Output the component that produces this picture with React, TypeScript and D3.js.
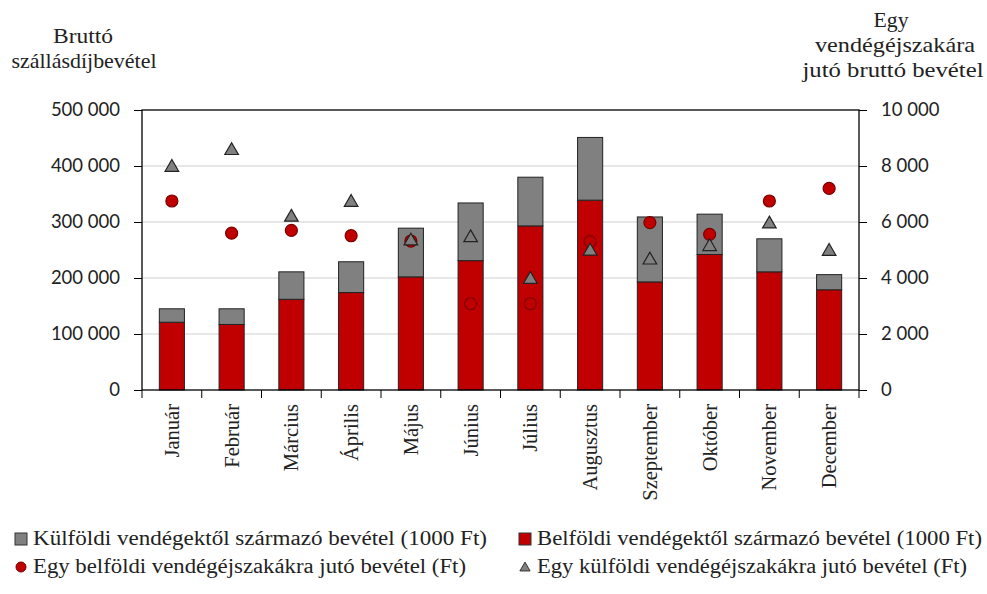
import * as d3 from 'd3';
import { useEffect, useRef } from 'react';

const months = ['Január', 'Február', 'Március', 'Április', 'Május', 'Június', 'Július',
  'Augusztus', 'Szeptember', 'Október', 'November', 'December'];
// 1000 Ft
const domesticRevenue = [121000, 117000, 162000, 174000, 202000, 231000, 293000, 339000, 193000, 242000, 211000, 179000];
const foreignRevenue = [24000, 28000, 49000, 55000, 87000, 103000, 87000, 112000, 116000, 72000, 59000, 27000];
// Ft per night
const domesticPerNight = [6750, 5600, 5700, 5510, 5320, 3080, 3080, 5300, 5980, 5560, 6750, 7200];
const foreignPerNight = [7950, 8550, 6170, 6700, 5320, 5440, 3950, 4960, 4640, 5120, 5930, 4950];

const leftTicks = [0, 100000, 200000, 300000, 400000, 500000];
const rightTicks = [0, 2000, 4000, 6000, 8000, 10000];

const RED = '#c00000';
const GREY = '#808080';
const serif = '"Liberation Serif", serif';
const sans = 'Lato, sans-serif';

const fmt = (v: number) => d3.format(',')(v).replace(/,/g, ' ');

export default function App() {
  const ref = useRef<SVGSVGElement>(null);

  useEffect(() => {
    document.body.style.margin = '0';
    const width = 987, height = 594;
    const margin = { top: 110, right: 128, bottom: 204, left: 142 };
    const w = width - margin.left - margin.right;
    const h = height - margin.top - margin.bottom;

    const svg = d3.select(ref.current);
    svg.selectAll('*').remove();

    const x = d3.scaleBand().domain(months).range([0, w]).paddingInner(0.58).paddingOuter(0.29);
    const xc = d3.scaleBand().domain(months).range([0, w]);
    const yL = d3.scaleLinear().domain([0, 500000]).range([h, 0]);
    const yR = d3.scaleLinear().domain([0, 10000]).range([h, 0]);

    const g = svg.append('g').attr('transform', `translate(${margin.left},${margin.top})`);

    // gridlines
    g.selectAll('.grid').data(leftTicks.slice(1, -1)).enter().append('line')
      .attr('x1', 0).attr('x2', w)
      .attr('y1', (d) => yL(d)).attr('y2', (d) => yL(d))
      .attr('stroke', '#cfcfcf').attr('stroke-width', 1.2);

    // bars
    const bars = g.selectAll('.bar').data(months).enter().append('g');
    bars.append('rect')
      .attr('x', (d) => x(d)!)
      .attr('width', x.bandwidth())
      .attr('y', (d, i) => yL(domesticRevenue[i]))
      .attr('height', (d, i) => h - yL(domesticRevenue[i]))
      .attr('fill', RED).attr('stroke', '#222').attr('stroke-width', 1);
    bars.append('rect')
      .attr('x', (d) => x(d)!)
      .attr('width', x.bandwidth())
      .attr('y', (d, i) => yL(domesticRevenue[i] + foreignRevenue[i]))
      .attr('height', (d, i) => yL(domesticRevenue[i]) - yL(domesticRevenue[i] + foreignRevenue[i]))
      .attr('fill', GREY).attr('stroke', '#222').attr('stroke-width', 1);

    // box
    g.append('rect').attr('width', w).attr('height', h)
      .attr('fill', 'none').attr('stroke', '#000').attr('stroke-width', 1.3);

    // markers
    const cx = (d: string) => xc(d)! + xc.bandwidth() / 2;
    g.selectAll('.dot').data(months).enter().append('circle')
      .attr('cx', cx).attr('cy', (d, i) => yR(domesticPerNight[i]))
      .attr('r', 6).attr('fill', RED).attr('stroke', '#7a0000').attr('stroke-width', 1.2);
    const tri = d3.symbol().type(d3.symbolTriangle).size(80);
    g.selectAll('.tri').data(months).enter().append('path')
      .attr('d', tri)
      .attr('transform', (d, i) => `translate(${cx(d)},${yR(foreignPerNight[i])})`)
      .attr('fill', GREY).attr('stroke', '#222').attr('stroke-width', 1.2);

    // left axis
    const left = g.append('g').call(d3.axisLeft(yL).tickValues(leftTicks).tickFormat((d) => fmt(+d)).tickSize(8).tickPadding(14));
    left.select('.domain').remove();
    left.selectAll('line').attr('stroke', '#000');
    left.selectAll('text').attr('font-family', sans).attr('font-size', 18.5).attr('fill', '#222');

    // right axis
    const right = g.append('g').attr('transform', `translate(${w},0)`)
      .call(d3.axisRight(yR).tickValues(rightTicks).tickFormat((d) => fmt(+d)).tickSize(8).tickPadding(14));
    right.select('.domain').remove();
    right.selectAll('line').attr('stroke', '#000');
    right.selectAll('text').attr('font-family', sans).attr('font-size', 18.5).attr('fill', '#222');

    // category ticks
    g.selectAll('.ctick').data(d3.range(13)).enter().append('line')
      .attr('x1', (d) => d * xc.step()).attr('x2', (d) => d * xc.step())
      .attr('y1', h).attr('y2', h + 8).attr('stroke', '#000');

    g.selectAll('.mlabel').data(months).enter().append('text')
      .attr('transform', (d) => `translate(${cx(d) + 7},${h + 14}) rotate(-90)`)
      .attr('text-anchor', 'end')
      .attr('font-family', serif).attr('font-size', 20.5).attr('fill', '#222')
      .text((d) => d);

    // axis titles
    const titleLine = (tx: number, ty: number, s: string, len: number) =>
      svg.append('text').attr('x', tx).attr('y', ty)
        .attr('font-family', serif).attr('font-size', 21).attr('fill', '#222')
        .attr('text-anchor', 'middle')
        .attr('textLength', len).attr('lengthAdjust', 'spacingAndGlyphs')
        .text(s);
    titleLine(83, 43, 'Bruttó', 60);
    titleLine(84, 68, 'szállásdíjbevétel', 145);
    titleLine(891, 27, 'Egy', 35);
    titleLine(895, 52, 'vendégéjszakára', 160);
    titleLine(893, 77, 'jutó bruttó bevétel', 181);

    // legend
    const legend = [
      { label: 'Külföldi vendégektől származó bevétel (1000 Ft)', shape: 'square', color: GREY, x: 15, y: 545, len: 454 },
      { label: 'Belföldi vendégektől származó bevétel (1000 Ft)', shape: 'square', color: RED, x: 519, y: 545, len: 445 },
      { label: 'Egy belföldi vendégéjszakákra jutó bevétel (Ft)', shape: 'circle', color: RED, x: 15, y: 573, len: 433 },
      { label: 'Egy külföldi vendégéjszakákra jutó bevétel (Ft)', shape: 'triangle', color: GREY, x: 519, y: 573, len: 430 },
    ];
    const lg = svg.selectAll('.leg').data(legend).enter().append('g')
      .attr('transform', (d) => `translate(${d.x},${d.y})`);
    lg.each(function (d) {
      const s = d3.select(this);
      if (d.shape === 'square') {
        s.append('rect').attr('x', 0).attr('y', -12).attr('width', 12).attr('height', 12)
          .attr('fill', d.color).attr('stroke', '#333');
      } else if (d.shape === 'circle') {
        s.append('circle').attr('cx', 6).attr('cy', -6).attr('r', 5)
          .attr('fill', d.color).attr('stroke', '#7a0000');
      } else {
        s.append('path').attr('d', d3.symbol().type(d3.symbolTriangle).size(45)())
          .attr('transform', 'translate(6,-5)').attr('fill', d.color).attr('stroke', '#333');
      }
      s.append('text').attr('x', 18).attr('y', 0)
        .attr('font-family', serif).attr('font-size', 20).attr('fill', '#222')
        .attr('textLength', d.len).attr('lengthAdjust', 'spacingAndGlyphs')
        .text(d.label);
    });
  }, []);

  return <svg ref={ref} width={987} height={594} style={{ display: 'block', background: '#fff' }} />;
}
